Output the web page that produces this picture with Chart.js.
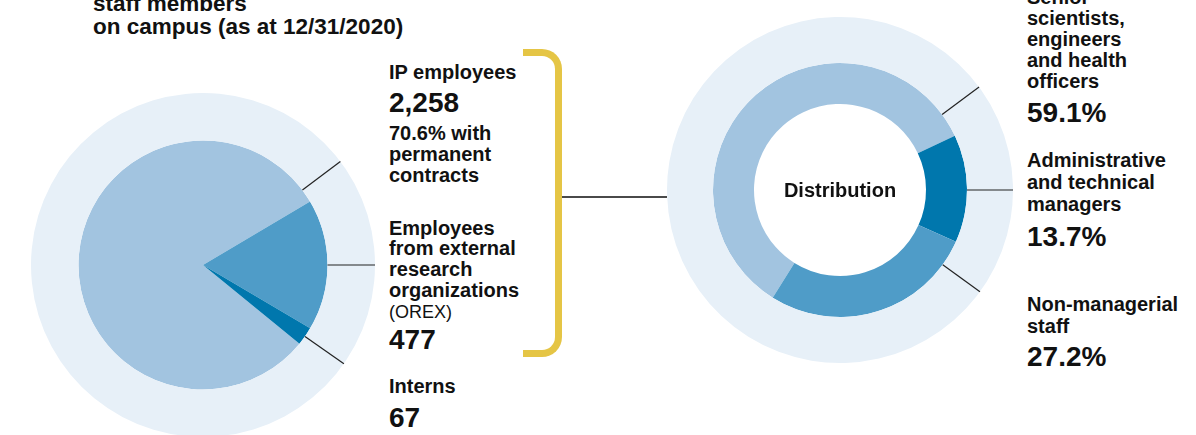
<!DOCTYPE html>
<html>
<head>
<meta charset="utf-8">
<script src="https://cdn.jsdelivr.net/npm/chart.js@4.4.1/dist/chart.umd.min.js"></script>
<style>
  html, body { margin: 0; padding: 0; background: #fff; }
  body { width: 1196px; height: 435px; overflow: hidden; position: relative;
         font-family: "Liberation Sans", Arial, sans-serif; color: #111; }
  canvas { position: absolute; }
  .t { position: absolute; white-space: nowrap; font-weight: bold; }
  #bracket { position: absolute; left: 523px; top: 49px; width: 39px; height: 308px;
             box-sizing: border-box; border: 7px solid #e5c545; border-left: none;
             border-radius: 0 20px 20px 0; }
  #link { position: absolute; left: 562px; top: 196px; width: 105px; height: 2px; background: #4a4a4a; }
</style>
</head>
<body>
<canvas id="staff-chart" width="344" height="344" style="left:31px; top:93px;"></canvas>
<canvas id="dist-chart" width="346" height="346" style="left:667px; top:17px;"></canvas>
<div id="bracket"></div>
<div id="link"></div>
<div id="texts"></div>
<script>
const staffLabels = ['IP employees', 'Employees from external research organizations (OREX)', 'Interns'];
const staffCounts = [2258, 477, 67];
const permanentShare = 70.6;

const distLabels = ['Senior scientists, engineers and health officers', 'Administrative and technical managers', 'Non-managerial staff'];
const distShares = [59.1, 13.7, 27.2];

const lightBlue = 'rgb(162, 196, 224)';
const midBlue = 'rgb(79, 156, 200)';
const darkBlue = 'rgb(0, 119, 173)';
const ringBlue = 'rgb(231, 240, 248)';

const fmt = n => n.toLocaleString('en-US');

// leader lines from the coloured ring out through the pale outer ring
const leaderLines = {
  id: 'leaderLines',
  afterDatasetsDraw(chart, args, opts) {
    const outer = chart.getDatasetMeta(0).data[0];
    const inner = chart.getDatasetMeta(1).data[0];
    const ctx = chart.ctx;
    ctx.save();
    ctx.strokeStyle = '#222';
    ctx.lineWidth = 1.2;
    opts.angles.forEach(a => {
      const r = a * Math.PI / 180;
      ctx.beginPath();
      ctx.moveTo(inner.x + Math.cos(r) * inner.outerRadius, inner.y + Math.sin(r) * inner.outerRadius);
      ctx.lineTo(outer.x + Math.cos(r) * outer.outerRadius, outer.y + Math.sin(r) * outer.outerRadius);
      ctx.stroke();
    });
    if (opts.centerText) {
      ctx.fillStyle = '#111';
      ctx.font = 'bold 20px "Liberation Sans", Arial, sans-serif';
      ctx.textAlign = 'center';
      ctx.textBaseline = 'alphabetic';
      ctx.fillText(opts.centerText, inner.x, inner.y + 7);
    }
    ctx.restore();
  }
};

function makeChart(id, values, colors, opts) {
  const ctx = document.getElementById(id).getContext('2d');
  return new Chart(ctx, {
    type: 'doughnut',
    data: {
      labels: opts.labels,
      datasets: [
        { data: [1], backgroundColor: [ringBlue], borderWidth: 0, weight: opts.ringWeight },
        { data: values, backgroundColor: colors, borderWidth: 0, weight: opts.innerWeight }
      ]
    },
    options: {
      responsive: false,
      animation: false,
      cutout: opts.cutout,
      rotation: opts.rotation,
      layout: { padding: 0 },
      hoverOffset: 0,
      events: [],
      plugins: {
        legend: { display: false },
        tooltip: { enabled: false },
        leaderLines: { angles: opts.angles, centerText: opts.centerText }
      }
    },
    plugins: [leaderLines]
  });
}

makeChart('staff-chart', staffCounts, [lightBlue, midBlue, darkBlue], {
  labels: staffLabels, cutout: 0, rotation: 129.2,
  ringWeight: 47.5, innerWeight: 124.5, angles: [-37, 0, 35]
});

makeChart('dist-chart', distShares, [lightBlue, darkBlue, midBlue], {
  labels: distLabels, cutout: 86, rotation: 212,
  ringWeight: 46, innerWeight: 41, angles: [-36.5, 0, 36], centerText: 'Distribution'
});

// text blocks: [html, x, first baseline, font size, line height, weight]
const texts = [
  ['staff members<br>on campus (as at 12/31/2020)', 93, 12.5, 22.5, 22.5, 'bold'],
  ['IP employees', 389, 79, 20, 21, 'bold'],
  [fmt(staffCounts[0]), 389, 113, 28, 28, 'bold'],
  [permanentShare + '% with<br>permanent<br>contracts', 389, 140, 20, 21, 'bold'],
  ['Employees<br>from external<br>research<br>organizations', 389, 235, 20, 20.6, 'bold'],
  ['(OREX)', 389, 318, 18, 18, 'normal'],
  [fmt(staffCounts[1]), 389, 350, 28, 28, 'bold'],
  ['Interns', 389, 393, 20, 21, 'bold'],
  [fmt(staffCounts[2]), 389, 428, 28, 28, 'bold'],
  ['Senior<br>scientists,<br>engineers<br>and health<br>officers', 1027, 4, 20, 21.1, 'bold'],
  [distShares[0] + '%', 1027, 123, 28, 28, 'bold'],
  ['Administrative<br>and technical<br>managers', 1027, 168, 20, 21.7, 'bold'],
  [distShares[1] + '%', 1027, 247, 28, 28, 'bold'],
  ['Non-managerial<br>staff', 1027, 312, 20, 21.5, 'bold'],
  [distShares[2] + '%', 1027, 367, 28, 28, 'bold']
];

const holder = document.getElementById('texts');
texts.forEach(([html, x, base, size, lh, weight]) => {
  const d = document.createElement('div');
  d.className = 't';
  d.innerHTML = html;
  d.style.left = x + 'px';
  d.style.top = (base - ((lh - 1.117 * size) / 2 + 0.905 * size)) + 'px';
  d.style.fontSize = size + 'px';
  d.style.lineHeight = lh + 'px';
  d.style.fontWeight = weight;
  holder.appendChild(d);
});
</script>
</body>
</html>
